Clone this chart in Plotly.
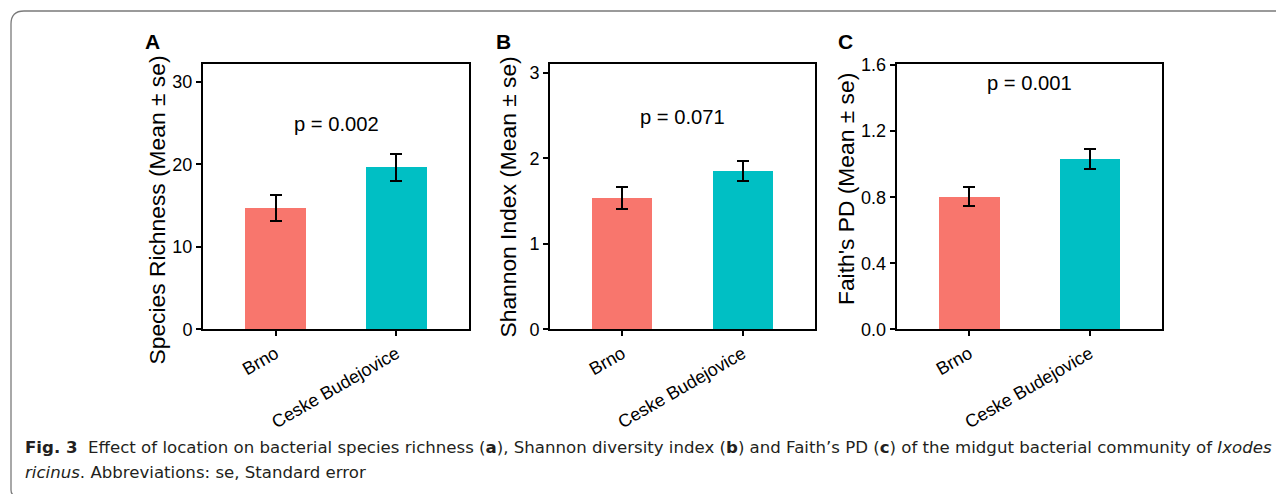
import plotly.graph_objects as go

W, H = 1284, 494

# ---------------- data ----------------
locations = ["Brno", "Ceske Budejovice"]
richness_mean = [14.7, 19.65]
richness_se = [1.55, 1.63]
shannon_mean = [1.536, 1.851]
shannon_se = [0.125, 0.12]
faith_mean = [0.802, 1.032]
faith_se = [0.058, 0.062]
p_values = ["p = 0.002", "p = 0.071", "p = 0.001"]
panel_letters = ["A", "B", "C"]
y_titles = ["Species Richness (Mean ± se)", "Shannon Index (Mean ± se)", "Faith's PD (Mean ± se)"]
y_ticks_A = [0, 10, 20, 30]
y_ticks_B = [0, 1, 2, 3]
y_ticks_C = [0.0, 0.4, 0.8, 1.2, 1.6]
bar_colors = ["#F8766D", "#00BFC4"]

caption_line1 = ("<b>Fig. 3</b>  Effect of location on bacterial species richness (<b>a</b>), "
                 "Shannon diversity index (<b>b</b>) and Faith’s PD (<b>c</b>) of the midgut "
                 "bacterial community of <i>Ixodes</i>")
caption_line2 = "<i>ricinus</i>. Abbreviations: se, Standard error"

# ---------------- layout helpers ----------------
# the page body adds an 8px offset; positions below are in window pixels
OFF = 8

def px(x):
    return (x - OFF) / W

def py(y):
    return 1 - (y - OFF) / H

FONT = "Liberation Sans, Arial, Helvetica, sans-serif"
x_domains = [(203, 469), (550, 815), (896.7, 1162.3)]
y_dom = [py(329.3), py(64.3)]
y_ranges = [[0, 32.1], [0, 3.1], [0, 1.605]]
y_tickvals = [y_ticks_A, y_ticks_B, y_ticks_C]
y_fmt = ["d", "d", ".1f"]
p_y = [24.85, 2.48, 1.49]
means = [richness_mean, shannon_mean, faith_mean]
ses = [richness_se, shannon_se, faith_se]
title_pos = [(156, 210.5), (507, 197.5), (846, 189)]
letter_pos = [(152, 42), (503, 41), (845, 41)]

fig = go.Figure()
annotations = []

for i in range(3):
    xa = "x" if i == 0 else f"x{i+1}"
    ya = "y" if i == 0 else f"y{i+1}"
    fig.add_trace(go.Bar(
        x=locations, y=means[i], width=0.5,
        marker=dict(color=bar_colors, line=dict(width=0)),
        error_y=dict(type="data", array=ses[i], thickness=2, width=6, color="black"),
        xaxis=xa, yaxis=ya, showlegend=False,
    ))
    axis_x = dict(
        domain=[px(x_domains[i][0]), px(x_domains[i][1])],
        anchor=ya, type="category", range=[-0.6, 1.6], automargin=False,
        showline=True, mirror=True, linecolor="black", linewidth=2,
        ticks="outside", ticklen=5, tickwidth=1.5, tickcolor="black",
        tickangle=-30, tickfont=dict(family=FONT, size=18, color="black"),
        showgrid=False, zeroline=False, fixedrange=True,
    )
    axis_y = dict(
        domain=y_dom, anchor=xa, range=y_ranges[i], automargin=False,
        tickvals=y_tickvals[i], tickformat=y_fmt[i],
        showline=True, mirror=True, linecolor="black", linewidth=2,
        ticks="outside", ticklen=5, tickwidth=1.5, tickcolor="black",
        tickfont=dict(family=FONT, size=18, color="black"),
        showgrid=False, zeroline=False, fixedrange=True,
    )
    fig.layout[("xaxis" if i == 0 else f"xaxis{i+1}")] = axis_x
    fig.layout[("yaxis" if i == 0 else f"yaxis{i+1}")] = axis_y

    annotations.append(dict(
        x=0.5, y=p_y[i], xref=xa, yref=ya, text=p_values[i], showarrow=False,
        font=dict(family=FONT, size=20.2, color="black"), xanchor="center", yanchor="middle",
    ))
    annotations.append(dict(
        x=px(title_pos[i][0]), y=py(title_pos[i][1]), xref="paper", yref="paper",
        text=y_titles[i], textangle=-90, showarrow=False,
        font=dict(family=FONT, size=22.8, color="black"), xanchor="center", yanchor="middle",
    ))
    annotations.append(dict(
        x=px(letter_pos[i][0]), y=py(letter_pos[i][1]), xref="paper", yref="paper",
        text=f"<b>{panel_letters[i]}</b>", showarrow=False,
        font=dict(family=FONT, size=21, color="black"), xanchor="center", yanchor="middle",
    ))

CAP_FONT = "DejaVu Sans, sans-serif"
annotations.append(dict(
    x=px(23), y=py(447), xref="paper", yref="paper", text=caption_line1, showarrow=False,
    font=dict(family=CAP_FONT, size=16.6, color="#231f20"), xanchor="left", yanchor="middle",
))
annotations.append(dict(
    x=px(23), y=py(472), xref="paper", yref="paper", text=caption_line2, showarrow=False,
    font=dict(family=CAP_FONT, size=16.6, color="#231f20"), xanchor="left", yanchor="middle",
))

# rounded frame (top + left edges)
r = 13
x0, y0 = 11, 11
yb = 496
path = (f"M {px(W + 20)} {py(y0)} L {px(x0 + r)} {py(y0)} "
        f"Q {px(x0)} {py(y0)} {px(x0)} {py(y0 + r)} "
        f"L {px(x0)} {py(yb - 6)} Q {px(x0)} {py(yb)} {px(x0 + 6)} {py(yb)}")
shapes = [dict(type="path", xref="paper", yref="paper", path=path,
               line=dict(color="#7a7a7a", width=1.3))]

fig.update_layout(
    width=W, height=H, margin=dict(l=0, r=0, t=0, b=0, pad=0, autoexpand=False),
    paper_bgcolor="white", plot_bgcolor="white",
    annotations=annotations, shapes=shapes, bargap=0,
)

fig.write_html("out.html")
